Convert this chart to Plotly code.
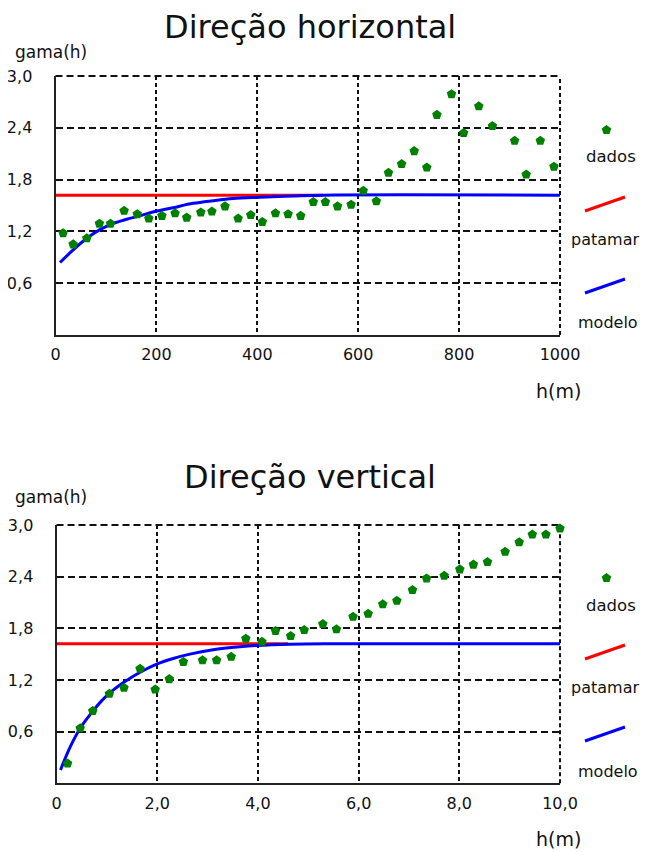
import plotly.graph_objects as go

# ---------------- data: horizontal direction ----------------
h_horiz = [15, 35, 62, 87, 109, 136, 162, 185, 211, 237, 260, 288, 310, 336, 362,
           387, 410, 436, 461, 486, 511, 535, 559, 586, 610, 636, 660, 686, 711, 736,
           756, 785, 809, 839, 866, 910, 933, 961, 988]
gamma_horiz = [1.18, 1.05, 1.12, 1.29, 1.29, 1.44, 1.40, 1.35, 1.38, 1.41, 1.36, 1.42, 1.43, 1.49, 1.35,
               1.39, 1.31, 1.41, 1.40, 1.38, 1.54, 1.54, 1.49, 1.51, 1.67, 1.55, 1.88, 1.98, 2.13, 1.94,
               2.55, 2.79, 2.34, 2.65, 2.42, 2.25, 1.86, 2.25, 1.95]
model_h_horiz = [9, 35, 62, 88, 114, 141, 167, 197, 233, 273, 312, 352, 405, 471, 530, 1000]
model_g_horiz = [0.84, 0.985, 1.12, 1.22, 1.29, 1.34, 1.38, 1.43, 1.475, 1.525, 1.555, 1.58, 1.595, 1.61, 1.62, 1.62]
sill_h_horiz = [0, 530]
sill_g_horiz = [1.62, 1.62]

# ---------------- data: vertical direction ----------------
h_vert = [0.22, 0.47, 0.72, 1.05, 1.34, 1.66, 1.96, 2.24, 2.52, 2.90, 3.18, 3.47, 3.76, 4.08, 4.35,
          4.65, 4.92, 5.29, 5.56, 5.89, 6.19, 6.48, 6.76, 7.07, 7.35, 7.70, 8.01, 8.28, 8.56, 8.91,
          9.19, 9.45, 9.72, 10.0]
gamma_vert = [0.23, 0.64, 0.84, 1.04, 1.11, 1.33, 1.09, 1.21, 1.41, 1.43, 1.43, 1.47, 1.68, 1.645, 1.77,
              1.71, 1.78, 1.85, 1.79, 1.935, 1.97, 2.08, 2.12, 2.245, 2.38, 2.41, 2.485, 2.54, 2.57, 2.69,
              2.80, 2.89, 2.89, 2.96]
model_h_vert = [0.08, 0.27, 0.47, 0.67, 0.90, 1.10, 1.33, 1.66, 1.99, 2.32, 2.65, 3.11, 3.64, 3.97, 4.64, 5.5, 10.0]
model_g_vert = [0.155, 0.42, 0.64, 0.80, 0.96, 1.07, 1.17, 1.29, 1.385, 1.45, 1.50, 1.55, 1.585, 1.60, 1.615, 1.62, 1.62]
sill_h_vert = [0, 4.6]
sill_g_vert = [1.62, 1.62]

# tick labels
xticks_horiz = [0, 200, 400, 600, 800, 1000]
xlabels_horiz = ["0", "200", "400", "600", "800", "1000"]
xticks_vert = [0, 2, 4, 6, 8, 10]
xlabels_vert = ["0", "2,0", "4,0", "6,0", "8,0", "10,0"]
yticks = [0.6, 1.2, 1.8, 2.4, 3.0]
ylabels = ["0,6", "1,2", "1,8", "2,4", "3,0"]

GREEN = "#008000"
RED = "#ff0000"
BLUE = "#0000ff"
FONT = "DejaVu Sans"
OFF = 8                      # page body margin offset
W, H = 650 - OFF, 852 - OFF  # figure size so page fits the window

fig = go.Figure()

def add_panel(xa, ya, hs, gs, mh, mg, sh, sg):
    fig.add_trace(go.Scatter(x=sh, y=sg, mode="lines", line=dict(color=RED, width=3),
                             xaxis=xa, yaxis=ya, showlegend=False))
    fig.add_trace(go.Scatter(x=mh, y=mg, mode="lines", line=dict(color=BLUE, width=3, shape="spline"),
                             xaxis=xa, yaxis=ya, showlegend=False))
    fig.add_trace(go.Scatter(x=hs, y=gs, mode="markers", cliponaxis=False,
                             marker=dict(symbol="pentagon", size=10, color=GREEN, line=dict(width=0)),
                             xaxis=xa, yaxis=ya, showlegend=False))

add_panel("x", "y", h_horiz, gamma_horiz, model_h_horiz, model_g_horiz, sill_h_horiz, sill_g_horiz)
add_panel("x2", "y2", h_vert, gamma_vert, model_h_vert, model_g_vert, sill_h_vert, sill_g_vert)

# ---------- legend glyphs drawn in window-pixel space on an overlay axis ----------
for dy in (0, 448):
    fig.add_trace(go.Scatter(x=[606.5], y=[130 + dy], mode="markers",
                             marker=dict(symbol="pentagon", size=10, color=GREEN),
                             xaxis="x3", yaxis="y3", showlegend=False, hoverinfo="skip"))
    fig.add_trace(go.Scatter(x=[585, 625], y=[211 + dy, 197 + dy], mode="lines",
                             line=dict(color=RED, width=3),
                             xaxis="x3", yaxis="y3", showlegend=False, hoverinfo="skip"))
    fig.add_trace(go.Scatter(x=[585, 625], y=[293 + dy, 279 + dy], mode="lines",
                             line=dict(color=BLUE, width=3),
                             xaxis="x3", yaxis="y3", showlegend=False, hoverinfo="skip"))

def px(xp):
    return (xp - OFF) / W

def py(yp):
    return 1 - (yp - OFF) / H

axis_common = dict(showline=True, linecolor="#222", linewidth=2, mirror=False,
                   showgrid=True, gridcolor="#111", gridwidth=2, zeroline=False,
                   automargin=False, ticks="outside", tickcolor="rgba(0,0,0,0)",
                   tickfont=dict(family=FONT, size=16, color="#111"))

fig.update_layout(
    width=W, height=H, margin=dict(l=0, r=0, t=0, b=0, autoexpand=False),
    paper_bgcolor="white", plot_bgcolor="rgba(0,0,0,0)",
    font=dict(family=FONT, color="#111"),
    showlegend=False,
    xaxis=dict(domain=[px(55.5), px(560)], anchor="y", range=[0, 1000], tickvals=xticks_horiz,
               ticktext=xlabels_horiz, griddash="4px,3px", ticklen=4, **axis_common),
    yaxis=dict(domain=[py(335), py(76)], anchor="x", range=[0, 3.0], tickvals=yticks,
               ticktext=ylabels, griddash="7px,4px", ticklen=18, **axis_common),
    xaxis2=dict(domain=[px(56.5), px(560)], anchor="y2", range=[0, 10], tickvals=xticks_vert,
                ticktext=xlabels_vert, griddash="4px,3px", ticklen=4, **axis_common),
    yaxis2=dict(domain=[py(783.3), py(525)], anchor="x2", range=[0, 3.0], tickvals=yticks,
                ticktext=ylabels, griddash="7px,4px", ticklen=18, **axis_common),
    xaxis3=dict(domain=[0, 1], anchor="y3", range=[OFF, 650], visible=False, fixedrange=True),
    yaxis3=dict(domain=[0, 1], anchor="x3", range=[852, OFF], visible=False, fixedrange=True),
)

# dashed grid lines on the top and right frame edges
for xr, yr in (("x", "y"), ("x2", "y2")):
    fig.add_shape(type="line", xref=f"{xr} domain", yref=f"{yr} domain", x0=0, x1=1, y0=1, y1=1,
                  line=dict(color="#111", width=2, dash="7px,4px"), layer="below")
    fig.add_shape(type="line", xref=f"{xr} domain", yref=f"{yr} domain", x0=1, x1=1, y0=0, y1=1,
                  line=dict(color="#111", width=2, dash="4px,3px"), layer="below")

def ann(text, x, y, size):
    fig.add_annotation(text=text, x=px(x), y=py(y), xref="paper", yref="paper",
                       xanchor="center", yanchor="middle", showarrow=False,
                       font=dict(family=FONT, size=size, color="#111"))

ann("Direção horizontal", 310, 27, 32)
ann("Direção vertical", 310, 477, 32)
for dy in (0, 445):
    ann("gama(h)", 51, 52 + dy, 17)
for dy in (0, 448):
    ann("h(m)", 558, 391 + dy, 19)
    ann("dados", 611, 157 + dy, 16.5)
    ann("patamar", 605, 239 + dy, 16)
    ann("modelo", 608, 323 + dy, 16)

fig.write_html("out.html")
